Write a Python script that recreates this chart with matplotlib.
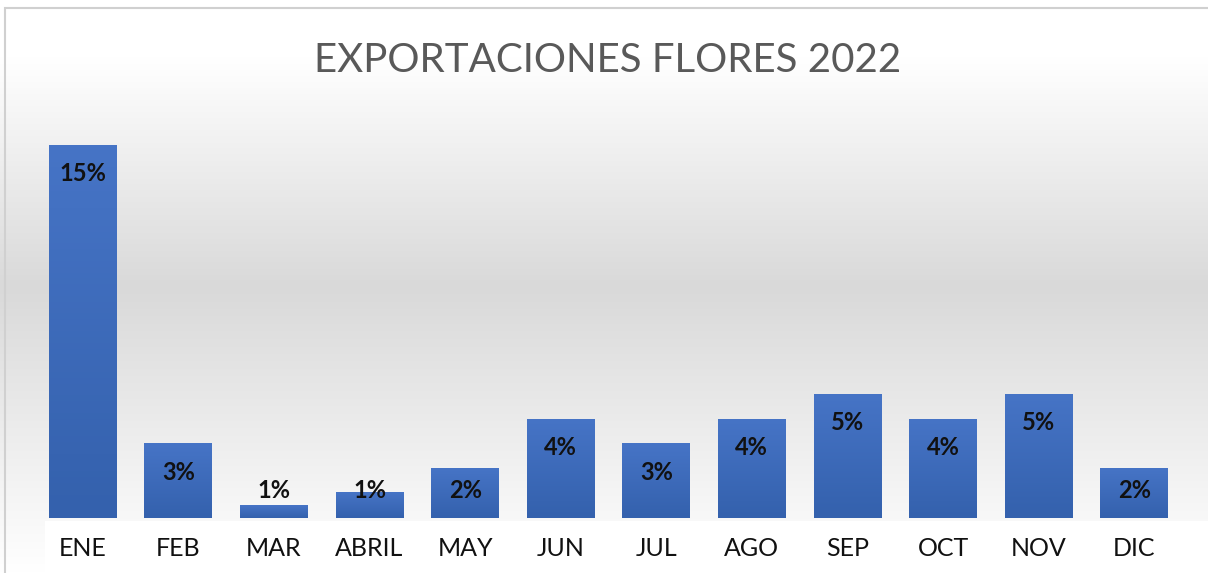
import numpy as np
import matplotlib.pyplot as plt
from matplotlib.colors import LinearSegmentedColormap
from matplotlib.patches import Rectangle

# ============================================================
# DATA
# ============================================================

months = ["ENE", "FEB", "MAR", "ABRIL", "MAY", "JUN",
          "JUL", "AGO", "SEP", "OCT", "NOV", "DIC"]
share_pct = [15.0, 3.0, 0.52, 1.03, 2.0, 4.0,
             3.0, 4.0, 5.0, 4.0, 5.0, 2.0]

title = "EXPORTACIONES FLORES 2022"

plt.rcParams["font.family"] = ["Lato", "DejaVu Sans"]

# ============================================================
# FIGURE + BACKGROUND
# ============================================================

W, H = 1208, 573
fig = plt.figure(figsize=(W / 100, H / 100), dpi=100)

bg = fig.add_axes([0, 0, 1, 1], zorder=0)
bg.set_axis_off()
bg_cmap = LinearSegmentedColormap.from_list(
    "bg",
    [(0.0, "#ffffff"), (0.10, "#ffffff"), (0.50, "#d9d9d9"),
     (0.88, "#f6f6f6"), (1.0, "#ffffff")]
)
grad = np.linspace(0, 1, 256).reshape(-1, 1)
bg.imshow(grad, aspect="auto", cmap=bg_cmap, extent=[0, 1, 0, 1],
          origin="upper")
bg.set_xlim(0, 1)
bg.set_ylim(0, 1)
# white band behind the category labels
bg.add_patch(Rectangle((45 / W, 0), 1, (H - 521) / H,
                       facecolor="white", edgecolor="none"))
# chart border (cropped at right / bottom)
bg.add_patch(Rectangle((5 / W, -0.1), 1.2, 1.1 - 8 / H,
                       facecolor="none", edgecolor="#d0d0d0", lw=1.5))

# ============================================================
# BARS
# ============================================================

ax = fig.add_axes([35 / W, (H - 518) / H, 1147 / W, 398 / H], zorder=1)
ax.patch.set_alpha(0)

x = np.arange(len(months))
bars = ax.bar(x, share_pct, width=0.71, color="#4472C4", zorder=2)

bar_cmap = LinearSegmentedColormap.from_list("bar", ["#3461ad", "#4674c6"])
for b in bars:
    bx, by = b.get_x(), b.get_y()
    bw, bh = b.get_width(), b.get_height()
    im = ax.imshow(np.linspace(0, 1, 64).reshape(-1, 1), cmap=bar_cmap,
                   aspect="auto", origin="lower",
                   extent=[bx, bx + bw, by, by + bh], zorder=3)
    im.set_clip_path(b)

for xi, v in zip(x, share_pct):
    ax.text(xi, max(v - 1.17, 1.09), f"{v:.0f}%", ha="center",
            va="center", fontsize=17, fontweight="bold",
            color="#111111", zorder=4)

ax.set_xlim(-0.5, len(months) - 0.5)
ax.set_ylim(0, 16)
ax.set_yticks([])
ax.set_xticks(x)
ax.set_xticklabels(months, fontsize=18, color="#111111")
ax.tick_params(axis="x", length=0, pad=14)
for s in ax.spines.values():
    s.set_visible(False)

fig.text(608 / W, 1 - 61 / H, title, ha="center", va="center",
         fontsize=29, color="#595959")

fig.savefig("out.png", dpi=100)
